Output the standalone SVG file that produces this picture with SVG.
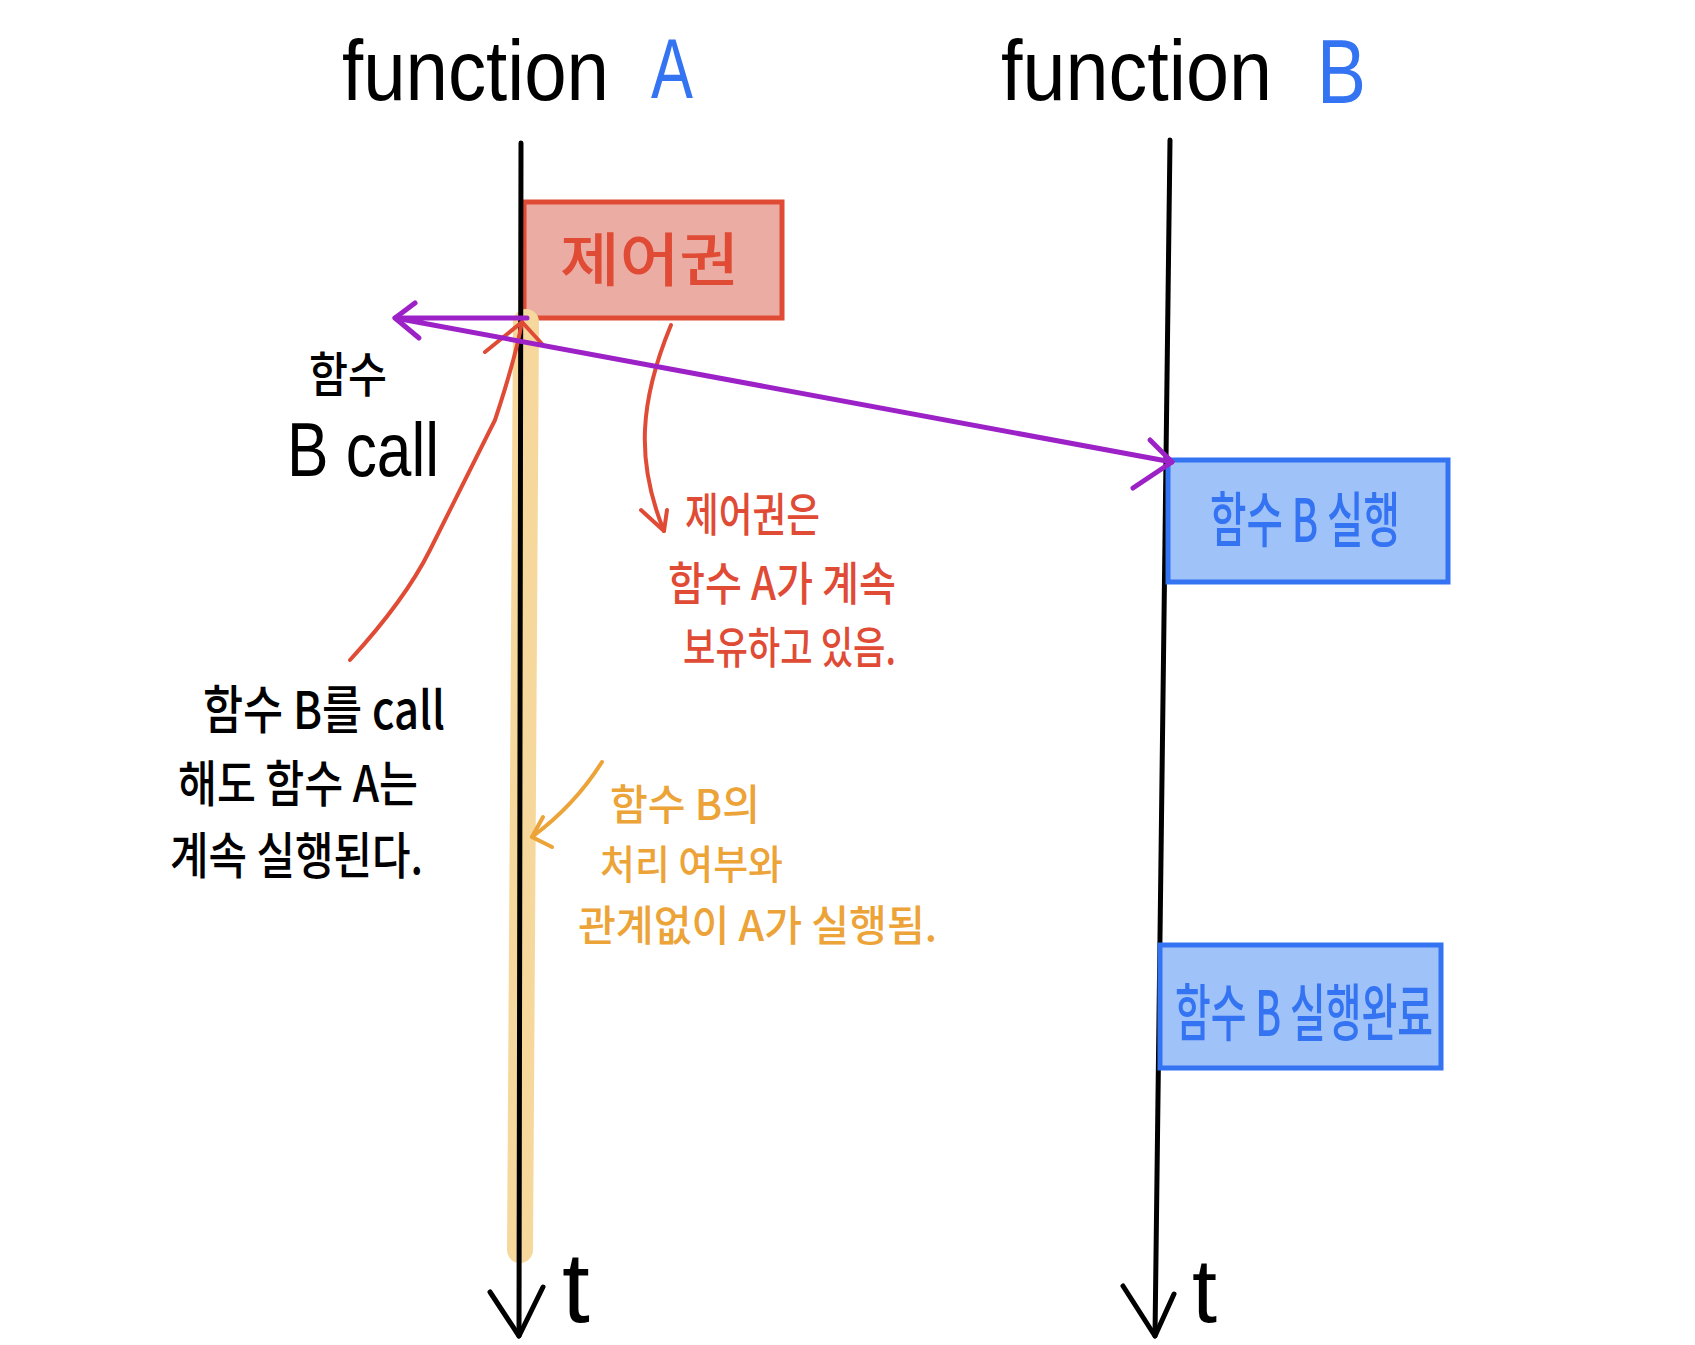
<svg xmlns="http://www.w3.org/2000/svg" width="1695" height="1345" viewBox="0 0 1695 1345">
<style>
.lat{font-family:"Liberation Sans","Noto Sans",sans-serif;}
.kr{font-family:"Noto Sans CJK KR","Noto Sans",sans-serif;font-weight:500;}
.blk{fill:#000;}
.blue{fill:#3473f1;}
.red{fill:#e04b36;}
.org{fill:#eca338;}
.axis{stroke:#000;stroke-width:5;fill:none;stroke-linecap:round;stroke-linejoin:round;}
.redln{stroke:#e04b36;stroke-width:4;fill:none;stroke-linecap:round;stroke-linejoin:round;}
.orgln{stroke:#eca338;stroke-width:4;fill:none;stroke-linecap:round;stroke-linejoin:round;}
.pur{stroke:#9c22c8;stroke-width:5;fill:none;stroke-linecap:round;stroke-linejoin:round;}
</style>
<rect width="1695" height="1345" fill="#fff"/>

<g id="title-a">
<text class="lat blk" x="342" y="100" font-size="86" textLength="267" lengthAdjust="spacingAndGlyphs">function</text>
<text class="lat blue" x="651" y="98" font-size="85" textLength="42" lengthAdjust="spacingAndGlyphs">A</text>
</g>
<g id="title-b">
<text class="lat blk" x="1001" y="100" font-size="86" textLength="271" lengthAdjust="spacingAndGlyphs">function</text>
<text class="lat blue" x="1317" y="103" font-size="90" textLength="49" lengthAdjust="spacingAndGlyphs">B</text>
</g>

<g id="control-box">
<rect x="524" y="202" width="258" height="116" fill="#ebaca3" stroke="#e04b36" stroke-width="5"/>
<text class="kr red" x="560" y="281" font-size="58" textLength="179" lengthAdjust="spacingAndGlyphs">제어권</text>
</g>

<g id="timeline-a">
<path d="M526,322 L520,1250" stroke="#f7d89c" stroke-width="26" stroke-linecap="round" fill="none"/>
<path class="axis" d="M521,143 L519,1336"/>
<path class="axis" d="M490,1292 L519,1336 L543,1287"/>
<text class="lat blk" x="562" y="1322" font-size="100">t</text>
</g>

<g id="timeline-b">
<path class="axis" d="M1170,140 L1155,1336"/>
<path class="axis" d="M1123,1286 L1155,1336 L1174,1294"/>
<text class="lat blk" x="1192" y="1322" font-size="90">t</text>
</g>

<g id="b-run">
<rect x="1168" y="460" width="280" height="122" fill="#9fc2f8" stroke="#3473f1" stroke-width="5"/>
<text class="kr blue" x="1210" y="542" font-size="60" textLength="190" lengthAdjust="spacingAndGlyphs">함수 B 실행</text>
</g>

<g id="b-done">
<rect x="1160" y="945" width="281" height="123" fill="#9fc2f8" stroke="#3473f1" stroke-width="5"/>
<text class="kr blue" x="1175" y="1036" font-size="62" textLength="258" lengthAdjust="spacingAndGlyphs">함수 B 실행완료</text>
</g>

<g id="label-call">
<text class="kr blk" x="309" y="392" font-size="48" textLength="78" lengthAdjust="spacingAndGlyphs">함수</text>
<text class="lat blk" x="287" y="476" font-size="76" textLength="152" lengthAdjust="spacingAndGlyphs">B call</text>
</g>

<g id="note-black">
<text class="kr blk" x="203" y="729" font-size="52" textLength="242" lengthAdjust="spacingAndGlyphs">함수 B를 call</text>
<text class="kr blk" x="178" y="802" font-size="50" textLength="240" lengthAdjust="spacingAndGlyphs">해도 함수 A는</text>
<text class="kr blk" x="170" y="874" font-size="50" textLength="253" lengthAdjust="spacingAndGlyphs">계속 실행된다.</text>
</g>

<g id="note-red">
<text class="kr red" x="685" y="531" font-size="46" textLength="135" lengthAdjust="spacingAndGlyphs">제어권은</text>
<text class="kr red" x="668" y="600" font-size="46" textLength="228" lengthAdjust="spacingAndGlyphs">함수 A가 계속</text>
<text class="kr red" x="683" y="664" font-size="44" textLength="213" lengthAdjust="spacingAndGlyphs">보유하고 있음.</text>
</g>

<g id="note-orange">
<text class="kr org" x="610" y="820" font-size="42" textLength="150" lengthAdjust="spacingAndGlyphs">함수 B의</text>
<text class="kr org" x="600" y="879" font-size="40" textLength="183" lengthAdjust="spacingAndGlyphs">처리 여부와</text>
<text class="kr org" x="578" y="941" font-size="42" textLength="359" lengthAdjust="spacingAndGlyphs">관계없이 A가 실행됨.</text>
</g>

<g id="connectors">
<path class="redln" d="M350,660 Q405,600 430,550 Q470,470 495,420 Q515,360 522,322"/>
<path class="redln" d="M485,352 L522,322 L543,345"/>
<path class="redln" d="M671,325 C640,400 635,460 664,531"/>
<path class="redln" d="M641,510 L664,531 L667,510"/>
<path class="orgln" d="M602,762 Q575,805 532,837"/>
<path class="orgln" d="M543,817 L532,837 L552,847"/>
<path class="pur" d="M527,318 L395,318 L1172,462"/>
<path class="pur" d="M415,303 L395,318 L419,338"/>
<path class="pur" d="M1150,440 L1172,462 L1133,488"/>
</g>
</svg>
